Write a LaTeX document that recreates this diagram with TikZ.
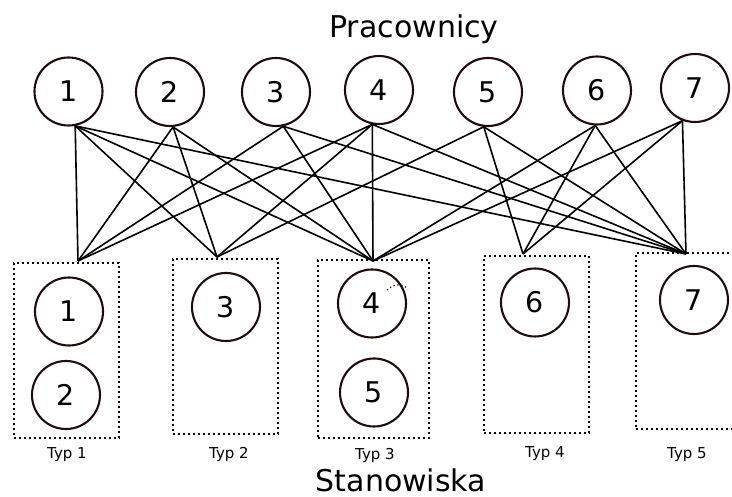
\documentclass[tikz,border=0pt]{standalone}
\usepackage{fontspec}
\setmainfont{DejaVu Sans}
\definecolor{ink}{RGB}{30,12,12}
\begin{document}
\begin{tikzpicture}[x=1pt,y=-1pt,
  person/.style={circle, draw=ink, line width=2.1pt, minimum size=68pt, inner sep=0pt,
                 font=\fontsize{28.5}{28.5}\selectfont},
  typbox/.style={draw=black, line width=1.8pt, dash pattern=on 1.8pt off 3.2pt,
                 inner sep=0pt, fill=none},
  link/.style={draw=black, line width=1.6pt},
  title/.style={font=\fontsize{30}{30}\selectfont, anchor=base},
  typlabel/.style={font=\fontsize{15}{15}\selectfont, anchor=base}]
\useasboundingbox (0,0) rectangle (732,497);

% headings
\node[title] (top) at (414,38) {Pracownicy};
\node[title] (bottom) at (401,492) {Stanowiska};

% workers
\node[person] (t1) at (68.5,91.5) {1};
\node[person] (t2) at (170,92) {2};
\node[person] (t3) at (276,92) {3};
\node[person] (t4) at (379,90) {4};
\node[person] (t5) at (488,92) {5};
\node[person] (t6) at (597,90.5) {6};
\node[person] (t7) at (695,88) {7};

% job-type boxes
\node[typbox, minimum width=105pt, minimum height=175pt] (b1) at (66.5,350.5) {};
\node[typbox, minimum width=105pt, minimum height=175pt] (b2) at (225.5,346.5) {};
\node[typbox, minimum width=111pt, minimum height=178pt] (b3) at (373.5,349) {};
\node[typbox, minimum width=105pt, minimum height=177pt] (b4) at (536.5,344.5) {};
\begin{scope}
  \clip (0,0) rectangle (732,497);
  \node[typbox, minimum width=106pt, minimum height=176pt] (b5) at (689,341) {};
\end{scope}

% positions inside the boxes
\node[person] (s1) at (69,311.5) {1};
\node[person] (s2) at (66,395) {2};
\node[person] (s3) at (226,307) {3};
\node[person] (s4) at (372,303.5) {4};
\node[person] (s5) at (374,392.5) {5};
\node[person] (s6) at (535,302.5) {6};
\node[person] (s7) at (694,300) {7};

\draw[line width=1.1pt, dash pattern=on 1.3pt off 2.6pt]
  (387,290) .. controls (393,284) and (402,283) .. (408,289);

% box labels
\node[typlabel] (l1) at (67,458) {Typ 1};
\node[typlabel] (l2) at (229,458) {Typ 2};
\node[typlabel] (l3) at (375,460) {Typ 3};
\node[typlabel] (l4) at (545,457) {Typ 4};
\node[typlabel] (l5) at (687,459) {Typ 5};

% attachment points
\coordinate (p1) at (t1.281);
\coordinate (p2) at (t2.275);
\coordinate (p3) at (t3.282);
\coordinate (p4) at (t4.259);
\coordinate (p5) at (t5.263);
\coordinate (p6) at (t6.267);
\coordinate (p7) at (t7.249);
\coordinate (h1) at (78,261);
\coordinate (h2) at (217,257);
\coordinate (h3) at (373,261);
\coordinate (h4) at (523,254);
\coordinate (h5) at (686,254);

% who can work where
\foreach \w/\h in {1/1,1/2,1/3,1/5,
                   2/1,2/2,2/3,
                   3/1,3/3,3/5,
                   4/1,4/2,4/3,4/5,
                   5/2,5/4,5/5,
                   6/3,6/4,6/5,
                   7/3,7/4,7/5}
  \draw[link] (p\w) -- (h\h);
\end{tikzpicture}
\end{document}
